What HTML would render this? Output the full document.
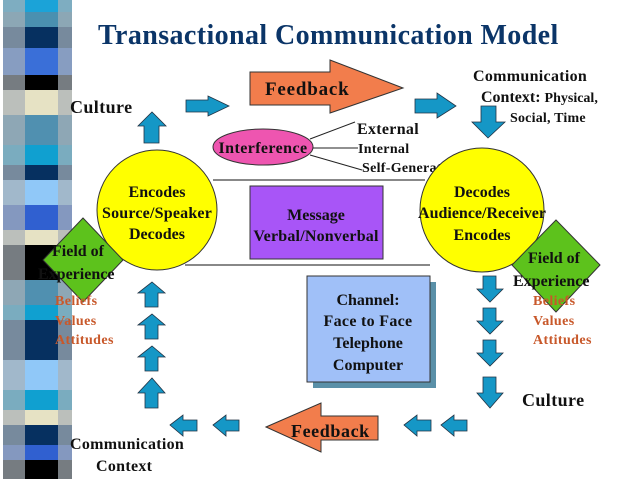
<!DOCTYPE html>
<html><head><meta charset="utf-8"><style>
html,body{margin:0;padding:0;background:#fff;}
svg{display:block;}
text{font-family:"Liberation Serif",serif;font-weight:bold;}
</style></head><body>
<svg width="638" height="479" viewBox="0 0 638 479" xmlns="http://www.w3.org/2000/svg">
<rect width="638" height="479" fill="#fff"/>
<g>
<rect x="3" y="0" width="69" height="12" fill="#1BA3D8"/>
<rect x="3" y="12" width="69" height="15" fill="#4A90B0"/>
<rect x="3" y="27" width="69" height="21" fill="#063060"/>
<rect x="3" y="48" width="69" height="27" fill="#3A6FD8"/>
<rect x="3" y="75" width="69" height="15" fill="#000"/>
<rect x="3" y="90" width="69" height="25" fill="#E6E2C4"/>
<rect x="3" y="115" width="69" height="30" fill="#5090B0"/>
<rect x="3" y="145" width="69" height="20" fill="#10A0D0"/>
<rect x="3" y="165" width="69" height="15" fill="#063060"/>
<rect x="3" y="180" width="69" height="25" fill="#90C8F8"/>
<rect x="3" y="205" width="69" height="25" fill="#3060D0"/>
<rect x="3" y="230" width="69" height="15" fill="#E6E2C4"/>
<rect x="3" y="245" width="69" height="35" fill="#000"/>
<rect x="3" y="280" width="69" height="25" fill="#5090B0"/>
<rect x="3" y="305" width="69" height="15" fill="#10A0D0"/>
<rect x="3" y="320" width="69" height="40" fill="#063060"/>
<rect x="3" y="360" width="69" height="30" fill="#90C8F8"/>
<rect x="3" y="390" width="69" height="20" fill="#10A0D0"/>
<rect x="3" y="410" width="69" height="15" fill="#E6E2C4"/>
<rect x="3" y="425" width="69" height="20" fill="#063060"/>
<rect x="3" y="445" width="69" height="15" fill="#3060D0"/>
<rect x="3" y="460" width="69" height="19" fill="#000"/>
<rect x="3" y="0" width="22" height="479" fill="#A8B0B8" opacity="0.7"/>
<rect x="58" y="0" width="14" height="479" fill="#A8B0B8" opacity="0.7"/>
</g>
<text x="98" y="44" font-size="28" letter-spacing="0.4" fill="#0B3568">Transactional Communication Model</text>

<polygon points="250,72 330,72 330,60 403,88 330,113 330,105 250,105" fill="#F27D4C" stroke="#333" stroke-width="1"/>
<text x="265" y="95" font-size="19" letter-spacing="0.8" fill="#111">Feedback</text>

<g fill="#1597C6" stroke="#234" stroke-width="0.8">
<polygon points="186,100 208,100 208,96 229,106 208,116 208,112 186,112"/>
<polygon points="415,99 437,99 437,93 456,106 437,118 437,113 415,113"/>
<polygon points="481,106 496,106 496,122 505,122 488,138 472,122 481,122"/>
<polygon points="138,126 144,126 144,143 159,143 159,126 166,126 152,112"/>
<polygon points="138,293 145,293 145,307 158,307 158,293 165,293 152,282"/>
<polygon points="138,325 145,325 145,339 158,339 158,325 165,325 152,314"/>
<polygon points="138,357 145,357 145,371 158,371 158,357 165,357 152,346"/>
<polygon points="138,393 145,393 145,408 158,408 158,393 165,393 152,378"/>
<polygon points="483,276 496,276 496,289 503,289 490,302 477,289 483,289"/>
<polygon points="483,308 496,308 496,321 503,321 490,334 477,321 483,321"/>
<polygon points="483,340 496,340 496,353 503,353 490,366 477,353 483,353"/>
<polygon points="483,377 496,377 496,393 503,393 490,408 477,393 483,393"/>
<polygon points="170,425 183,415 183,420 197,420 197,431 183,431 183,436"/>
<polygon points="213,425 226,415 226,420 239,420 239,431 226,431 226,436"/>
<polygon points="404,425 417,415 417,420 431,420 431,431 417,431 417,436"/>
<polygon points="441,425 454,415 454,420 467,420 467,431 454,431 454,436"/>
</g>

<polygon points="266,427 321,403 321,416 378,416 378,440 321,440 321,452" fill="#F27D4C" stroke="#333" stroke-width="1"/>
<text x="291" y="437" font-size="18" letter-spacing="0.6" fill="#111">Feedback</text>

<ellipse cx="263" cy="147" rx="50" ry="18" fill="#EE55B0" stroke="#333"/>
<text x="263" y="153" font-size="16" letter-spacing="0.4" text-anchor="middle" fill="#111">Interference</text>
<line x1="310" y1="139" x2="355" y2="122" stroke="#222"/>
<line x1="313" y1="148" x2="358" y2="148" stroke="#222"/>
<line x1="310" y1="155" x2="362" y2="170" stroke="#222"/>
<text x="357" y="134" font-size="16" letter-spacing="0.3" fill="#111">External</text>
<text x="358" y="153" font-size="14" letter-spacing="0.3" fill="#111">Internal</text>
<text x="362" y="172" font-size="14" letter-spacing="0.3" fill="#111">Self-Generated</text>

<line x1="213" y1="180" x2="425" y2="180" stroke="#111"/>
<line x1="185" y1="265" x2="430" y2="265" stroke="#111"/>

<circle cx="157" cy="210" r="60" fill="#FFFF00" stroke="#333"/>
<text x="157" y="197" font-size="16" text-anchor="middle" fill="#111">Encodes</text>
<text x="157" y="218" font-size="16" letter-spacing="0.2" text-anchor="middle" fill="#111">Source/Speaker</text>
<text x="157" y="239" font-size="16" text-anchor="middle" fill="#111">Decodes</text>
<circle cx="482" cy="210" r="62" fill="#FFFF00" stroke="#333"/>
<text x="482" y="197" font-size="16" text-anchor="middle" fill="#111">Decodes</text>
<text x="482" y="218" font-size="16" text-anchor="middle" fill="#111">Audience/Receiver</text>
<text x="482" y="240" font-size="16" text-anchor="middle" fill="#111">Encodes</text>

<rect x="250" y="186" width="133" height="73" fill="#A855F7" stroke="#333"/>
<text x="316" y="220" font-size="16" text-anchor="middle" fill="#111">Message</text>
<text x="316" y="241" font-size="16" letter-spacing="0.2" text-anchor="middle" fill="#111">Verbal/Nonverbal</text>

<polygon points="83,218 123,260 83,302 43,260" fill="#5DC21C" stroke="#333"/>
<text x="52" y="256" font-size="16" fill="#111">Field of</text>
<text x="38" y="279" font-size="16" fill="#111">Experience</text>
<polygon points="556,220 600,265 556,312 512,265" fill="#5DC21C" stroke="#333"/>
<text x="528" y="263" font-size="16" fill="#111">Field of</text>
<text x="513" y="286" font-size="16" fill="#111">Experience</text>

<g font-size="14" letter-spacing="0.4" fill="#C8582A">
<text x="55" y="305">Beliefs</text><text x="55" y="325">Values</text><text x="55" y="344">Attitudes</text>
<text x="533" y="305">Beliefs</text><text x="533" y="325">Values</text><text x="533" y="344">Attitudes</text>
</g>

<rect x="313" y="282" width="123" height="106" fill="#5A90A8"/>
<rect x="307" y="276" width="123" height="106" fill="#A0C0F8" stroke="#333"/>
<text x="368" y="305" font-size="16" text-anchor="middle" fill="#111">Channel:</text>
<text x="368" y="326" font-size="16" letter-spacing="0.3" text-anchor="middle" fill="#111">Face to Face</text>
<text x="368" y="348" font-size="16" text-anchor="middle" fill="#111">Telephone</text>
<text x="368" y="370" font-size="16" text-anchor="middle" fill="#111">Computer</text>

<text x="70" y="113" font-size="18" letter-spacing="0.4" fill="#111">Culture</text>
<text x="522" y="406" font-size="18" letter-spacing="0.4" fill="#111">Culture</text>
<text x="473" y="81" font-size="16" letter-spacing="0.3" fill="#111">Communication</text>
<text x="481" y="102" font-size="16" fill="#111">Context: <tspan font-size="14">Physical,</tspan></text>
<text x="510" y="122" font-size="14" letter-spacing="0.2" fill="#111">Social, Time</text>
<text x="70" y="449" font-size="16" letter-spacing="0.3" fill="#111">Communication</text>
<text x="96" y="471" font-size="16" letter-spacing="0.3" fill="#111">Context</text>
</svg>
</body></html>
